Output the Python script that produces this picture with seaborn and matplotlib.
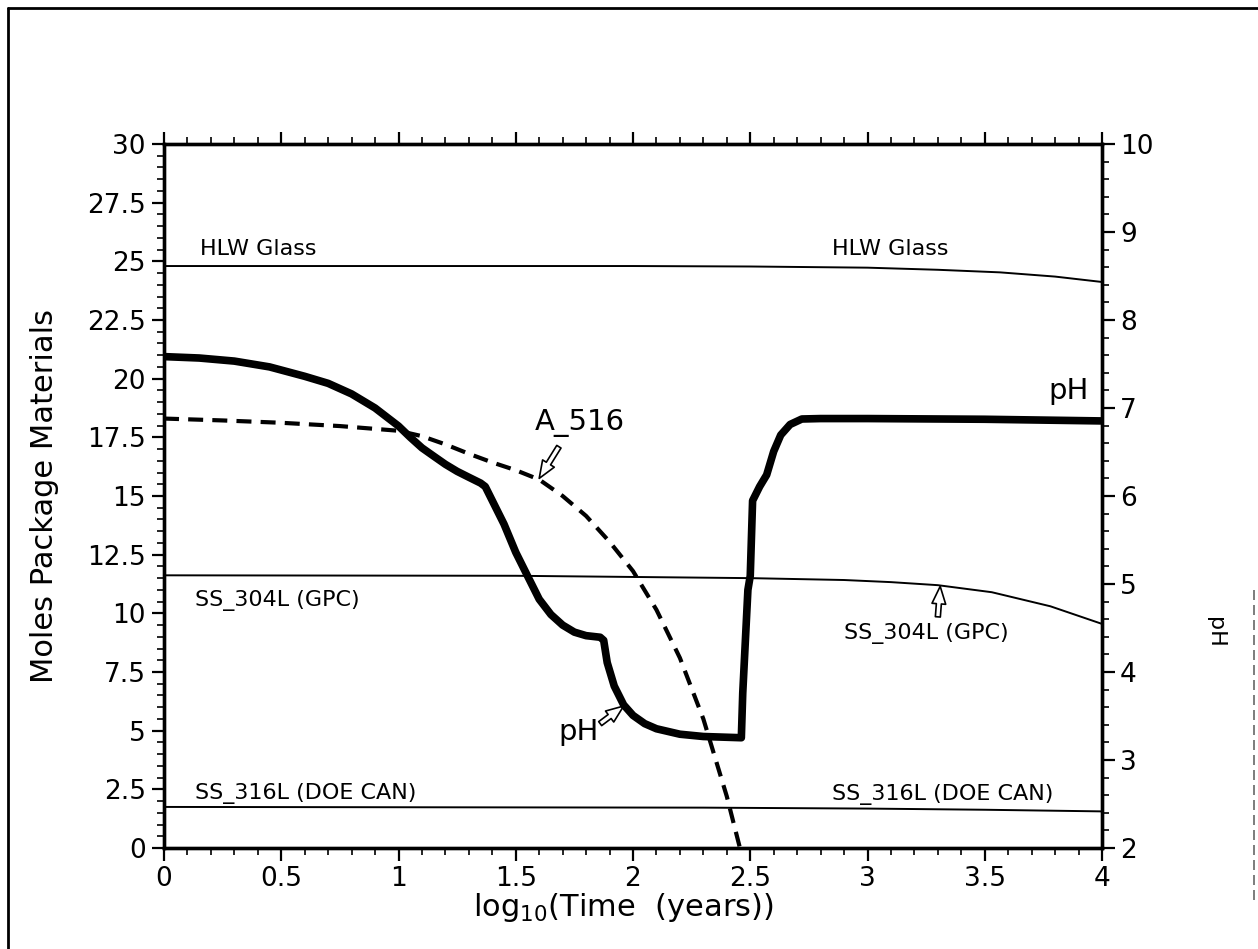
import numpy as np
import pandas as pd
import seaborn as sns
import matplotlib
matplotlib.use("Agg")
import matplotlib.pyplot as plt
from matplotlib.lines import Line2D

# ---------------- data ----------------
# pH curve (right axis, pH units)
ph_time = [0.00, 0.15, 0.30, 0.45, 0.60, 0.70, 0.80, 0.90, 1.00, 1.05, 1.10, 1.15,
           1.20, 1.25, 1.30, 1.35, 1.37, 1.40, 1.45, 1.50, 1.55, 1.60, 1.65, 1.70,
           1.75, 1.80, 1.86, 1.875, 1.89, 1.92, 1.96, 2.00, 2.05, 2.10, 2.20, 2.30,
           2.462, 2.468, 2.49, 2.50, 2.51, 2.54, 2.57, 2.60, 2.63, 2.67, 2.72, 2.80,
           3.00, 3.50, 4.00]
ph_value = [7.584, 7.568, 7.533, 7.467, 7.360, 7.280, 7.160, 7.000, 6.795, 6.667,
            6.547, 6.453, 6.360, 6.280, 6.213, 6.147, 6.107, 5.947, 5.680, 5.360,
            5.093, 4.827, 4.653, 4.533, 4.453, 4.413, 4.395, 4.360, 4.107, 3.840,
            3.627, 3.507, 3.413, 3.355, 3.293, 3.267, 3.253, 3.760, 4.933, 5.093,
            5.947, 6.107, 6.240, 6.507, 6.693, 6.813, 6.875, 6.880, 6.880, 6.872,
            6.853]

# A_516 (moles)
a516_time = [0.00, 0.25, 0.50, 0.75, 1.00, 1.10, 1.20, 1.30, 1.40, 1.50, 1.60, 1.70,
             1.80, 1.90, 2.00, 2.10, 2.20, 2.30, 2.40, 2.456]
a516_moles = [18.30, 18.22, 18.12, 17.98, 17.78, 17.55, 17.20, 16.80, 16.43, 16.10,
              15.70, 15.00, 14.15, 13.05, 11.80, 10.15, 8.10, 5.50, 2.20, 0.0]

# HLW Glass (moles)
hlw_time = [0.0, 1.0, 2.0, 2.5, 3.0, 3.3, 3.565, 3.8, 4.0]
hlw_moles = [24.8, 24.8, 24.8, 24.78, 24.73, 24.64, 24.53, 24.35, 24.12]

# SS_304L (GPC) (moles)
ss304_time = [0.0, 1.5, 2.5, 2.9, 3.1, 3.3, 3.53, 3.78, 4.0]
ss304_moles = [11.62, 11.6, 11.5, 11.42, 11.33, 11.2, 10.9, 10.3, 9.55]

# SS_316L (DOE CAN) (moles)
ss316_time = [0.0, 2.3, 3.0, 3.5, 4.0]
ss316_moles = [1.75, 1.72, 1.68, 1.63, 1.56]

x_ticks = [0, 0.5, 1, 1.5, 2, 2.5, 3, 3.5, 4]
x_ticklabels = ["0", "0.5", "1", "1.5", "2", "2.5", "3", "3.5", "4"]
y_ticks = [0, 2.5, 5, 7.5, 10, 12.5, 15, 17.5, 20, 22.5, 25, 27.5, 30]
y_ticklabels = ["0", "2.5", "5", "7.5", "10", "12.5", "15", "17.5", "20", "22.5", "25", "27.5", "30"]
ph_ticks = [2, 3, 4, 5, 6, 7, 8, 9, 10]
ph_ticklabels = ["2", "3", "4", "5", "6", "7", "8", "9", "10"]

# ---------------- figure ----------------
sns.set_theme(style="ticks")
plt.rcParams["font.family"] = ["DejaVu Sans"]
plt.rcParams["text.color"] = "black"
plt.rcParams["axes.labelcolor"] = "black"

fig = plt.figure(figsize=(12.58, 9.49), dpi=100)
fig.subplots_adjust(left=164/1258, right=1102/1258, bottom=1-848/949, top=1-144/949)
ax = fig.add_subplot(111)
ax2 = ax.twinx()

thin = 1.4
sns.lineplot(x=hlw_time, y=hlw_moles, ax=ax, color="black", lw=thin)
sns.lineplot(x=ss304_time, y=ss304_moles, ax=ax, color="black", lw=thin)
sns.lineplot(x=ss316_time, y=ss316_moles, ax=ax, color="black", lw=thin)
sns.lineplot(x=a516_time, y=a516_moles, ax=ax, color="black", lw=3.0,
             linestyle=(0, (3.6, 2.2)))
sns.lineplot(x=ph_time, y=ph_value, ax=ax2, color="black", lw=5.5, sort=False,
             solid_joinstyle="round", solid_capstyle="round")

ax.set_xlim(0, 4)
ax.set_ylim(0, 30)
ax2.set_ylim(2, 10)

ax.set_xticks(x_ticks)
ax.set_xticklabels(x_ticklabels)
ax.set_xticks(np.arange(0, 4.001, 0.1), minor=True)
ax.set_yticks(y_ticks)
ax.set_yticklabels(y_ticklabels)
ax.set_yticks(np.arange(0, 30.001, 0.5), minor=True)
ax2.set_yticks(ph_ticks)
ax2.set_yticklabels(ph_ticklabels)
ax2.set_yticks(np.arange(2, 10.001, 0.2), minor=True)

for a in (ax, ax2):
    for s in a.spines.values():
        s.set_linewidth(2.4)
        s.set_color("black")
ax.tick_params(axis="both", which="major", direction="out", length=9, width=1.6,
               labelsize=19, colors="black", top=True, pad=4)
ax.tick_params(axis="both", which="minor", direction="out", length=5, width=1.2,
               top=True, colors="black")
ax2.tick_params(axis="y", which="major", direction="out", length=9, width=1.6,
                labelsize=19, colors="black", pad=4)
ax2.tick_params(axis="y", which="minor", direction="out", length=5, width=1.2,
                colors="black")

ax.set_ylabel("Moles Package Materials", fontsize=22, va="center", color="black")
ax.yaxis.set_label_coords(-0.127, 0.5)
ax.set_xlabel("log$_{10}$(Time  (years))", fontsize=22, va="center", color="black")
ax.xaxis.set_label_coords(0.49, -0.085)
ax2.set_ylabel("")

# curve labels
lab = 16
tk = dict(color="black", va="baseline")
ax.text(0.153, 25.25, "HLW Glass", fontsize=lab, **tk)
ax.text(2.85, 25.25, "HLW Glass", fontsize=lab, **tk)
ax.text(0.132, 10.33, "SS_304L (GPC)", fontsize=lab, **tk)
ax.text(2.90, 8.9, "SS_304L (GPC)", fontsize=lab, **tk)
ax.text(0.132, 2.1, "SS_316L (DOE CAN)", fontsize=lab, **tk)
ax.text(2.85, 2.05, "SS_316L (DOE CAN)", fontsize=lab, **tk)
ax.text(1.58, 17.8, "A_516", fontsize=21, **tk)
ax.text(3.77, 19.15, "pH", fontsize=21, **tk)
ax.text(1.68, 4.6, "pH", fontsize=21, **tk)

arrow = dict(arrowstyle="simple,head_length=0.7,head_width=0.55,tail_width=0.2",
             fc="white", ec="black", lw=1.2, shrinkA=0, shrinkB=0, mutation_scale=18)
ax.annotate("", xy=(1.60, 15.75), xytext=(1.684, 17.1), arrowprops=arrow)
ax.annotate("", xy=(1.96, 6.05), xytext=(1.86, 5.3), arrowprops=arrow)
ax.annotate("", xy=(3.31, 11.15), xytext=(3.30, 9.85), arrowprops=arrow)

# right rotated pH label
fig.text(1215/1258, 1-632/949, "pH", rotation=270, fontsize=16, color="black",
         ha="center", va="center")

# page border
fig.add_artist(Line2D([8/1258, 8/1258], [0, 1-8/949], transform=fig.transFigure,
                      color="black", lw=2))
fig.add_artist(Line2D([8/1258, 1], [1-8/949, 1-8/949], transform=fig.transFigure,
                      color="black", lw=2))
fig.add_artist(Line2D([1254/1258, 1254/1258], [1-900/949, 1-590/949],
                      transform=fig.transFigure, color="0.4", lw=1.2,
                      linestyle=(0, (6, 3))))

fig.savefig("out.png", dpi=100)
